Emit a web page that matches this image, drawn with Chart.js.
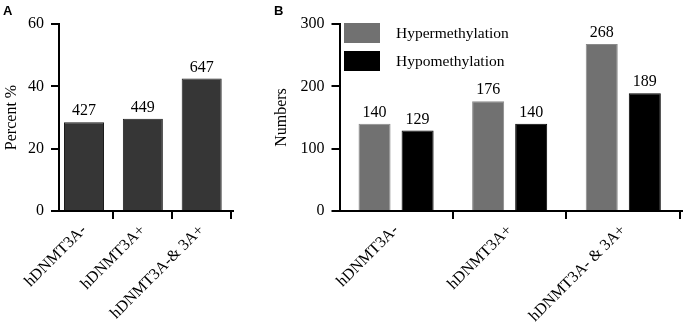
<!DOCTYPE html>
<html><head><meta charset="utf-8">
<script src="https://cdn.jsdelivr.net/npm/chart.js@4.4.0/dist/chart.umd.min.js"></script>
<style>
html,body{margin:0;padding:0;background:#fff;width:685px;height:332px;overflow:hidden}
#wa{position:absolute;left:0;top:0;width:270px;height:332px}
#wb{position:absolute;left:270px;top:0;width:415px;height:332px}
.pl{position:absolute;font:bold 13px "Liberation Sans",Arial,sans-serif;line-height:1;color:#000}
</style></head><body>
<div id="wa"><canvas id="ca" width="270" height="332"></canvas></div>
<div id="wb"><canvas id="cb" width="415" height="332"></canvas></div>
<div class="pl" style="left:3px;top:4px">A</div>
<div class="pl" style="left:274px;top:4px">B</div>
<script>
// ---- data ----
const categoriesA = ['hDNMT3A-', 'hDNMT3A+', 'hDNMT3A-& 3A+'];
const percentA = [28.5, 29.6, 42.5];
const countsA = [427, 449, 647];
const yTicksA = [0, 20, 40, 60];

const categoriesB = ['hDNMT3A-', 'hDNMT3A+', 'hDNMT3A- & 3A+'];
const seriesNamesB = ['Hypermethylation', 'Hypomethylation'];
const hyperB = [140, 176, 268];
const hypoB = [129, 140, 189];
const yTicksB = [0, 100, 200, 300];

// ---- styling helpers ----
const serif = "'Liberation Serif','Times New Roman',serif";

const valueLabels = {
  id: 'valueLabels',
  afterDatasetsDraw(chart, args, opts) {
    const ctx = chart.ctx;
    ctx.save();
    ctx.font = '16px ' + serif;
    ctx.fillStyle = '#000';
    ctx.textAlign = 'center';
    ctx.textBaseline = 'alphabetic';
    chart.data.datasets.forEach((ds, i) => {
      const meta = chart.getDatasetMeta(i);
      meta.data.forEach((bar, j) => {
        const txt = opts.texts ? opts.texts[i][j] : ds.data[j];
        ctx.fillText(String(txt), bar.x, bar.y - opts.gap);
      });
    });
    ctx.restore();
  }
};

const insideLegend = {
  id: 'insideLegend',
  afterDraw(chart) {
    const ctx = chart.ctx, ca = chart.chartArea;
    ctx.save();
    chart.data.datasets.forEach((ds, i) => {
      const x = ca.left + 4.5, y = ca.top - 1 + i * 28;
      ctx.fillStyle = ds.backgroundColor;
      ctx.fillRect(x, y, 36, 20);
      ctx.fillStyle = '#000';
      ctx.font = '15.5px ' + serif;
      ctx.textAlign = 'left';
      ctx.textBaseline = 'middle';
      ctx.fillText(ds.label, x + 52, y + 11);
    });
    ctx.restore();
  }
};

function catShift(start, range) {
  return function (scale) { scale._startValue = start; scale._valueRange = range; };
}

function yScale(ticks, title, width, pad) {
  return {
    min: ticks[0], max: ticks[ticks.length - 1],
    afterFit: s => { s.width = width; },
    afterBuildTicks: s => { s.ticks = ticks.map(v => ({ value: v })); },
    ticks: { font: { family: serif, size: 16 }, color: '#000', padding: pad },
    grid: { drawOnChartArea: false, tickLength: 8, color: '#000', lineWidth: 2 },
    border: { display: true, color: '#000', width: 2 },
    title: { display: true, text: title, color: '#000', font: { family: serif, size: 16 }, padding: { top: 2, bottom: 0 } }
  };
}

function xScale(start, range) {
  return {
    afterFit: s => { s.height = 121; },
    afterBuildTicks: catShift(start, range),
    ticks: { font: { family: serif, size: 16 }, color: '#000', minRotation: 45, maxRotation: 45, autoSkip: false, padding: 2 },
    grid: { drawOnChartArea: false, tickLength: 8, color: '#000', lineWidth: 2 },
    border: { display: true, color: '#000', width: 2 }
  };
}

Chart.defaults.animation = false;

new Chart(document.getElementById('ca'), {
  type: 'bar',
  data: {
    labels: categoriesA,
    datasets: [{
      label: 'Percent %',
      data: percentA,
      backgroundColor: '#363636',
      borderColor: '#1c1c1c',
      borderWidth: 1,
      categoryPercentage: 0.8,
      barPercentage: 0.85
    }]
  },
  options: {
    responsive: false,
    devicePixelRatio: 1,
    layout: { autoPadding: false, padding: { left: 0, top: 24, right: 37, bottom: 0 } },
    plugins: { legend: { display: false }, tooltip: { enabled: false }, valueLabels: { texts: [countsA], gap: 7 } },
    scales: { x: xScale(-0.425, 2.957), y: yScale(yTicksA, 'Percent %', 59, 7) }
  },
  plugins: [valueLabels]
});

new Chart(document.getElementById('cb'), {
  type: 'bar',
  data: {
    labels: categoriesB,
    datasets: [
      { label: seriesNamesB[0], data: hyperB, backgroundColor: '#717171', borderColor: '#8a8a8a', borderWidth: 1,
        categoryPercentage: 0.758, barPercentage: 0.744 },
      { label: seriesNamesB[1], data: hypoB, backgroundColor: '#000000', borderColor: '#000000', borderWidth: 1,
        categoryPercentage: 0.758, barPercentage: 0.744 }
    ]
  },
  options: {
    responsive: false,
    devicePixelRatio: 1,
    layout: { autoPadding: false, padding: { left: 0, top: 24, right: 3, bottom: 0 } },
    plugins: { legend: { display: false }, tooltip: { enabled: false }, valueLabels: { gap: 7 } },
    scales: { x: xScale(-0.498, 3.015), y: yScale(yTicksB, 'Numbers', 69.5, 7) }
  },
  plugins: [valueLabels, insideLegend]
});
</script>
</body></html>
